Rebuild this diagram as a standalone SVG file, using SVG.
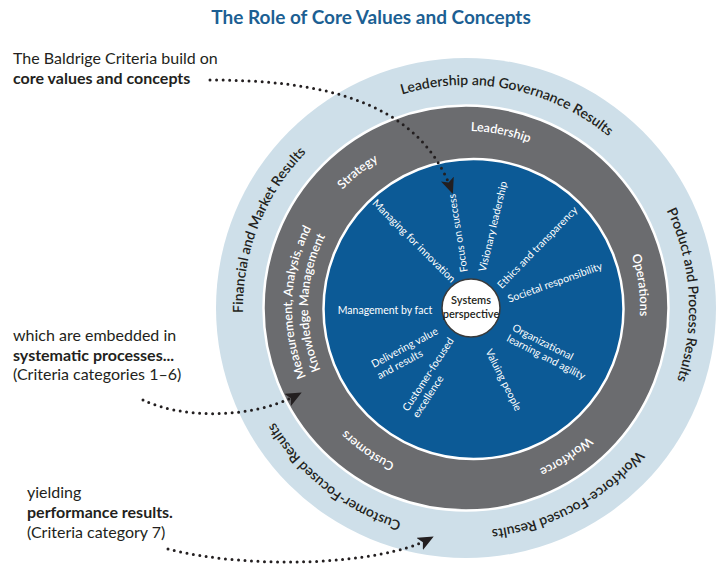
<svg xmlns="http://www.w3.org/2000/svg" xmlns:xlink="http://www.w3.org/1999/xlink" width="717" height="576" viewBox="0 0 717 576">
<defs>
<style>
.title{font-family:Lato,"Liberation Sans",sans-serif;font-weight:bold;font-size:19px;fill:#1c5f93}
.note{font-family:Lato,"Liberation Sans",sans-serif;font-size:16px;fill:#231f20}
.noteb{font-weight:bold}
.outer{font-family:Lato,"Liberation Sans",sans-serif;font-size:14px;fill:#231f20;font-weight:600}
.ring{font-family:Lato,"Liberation Sans",sans-serif;font-size:12.5px;fill:#ffffff;font-weight:600}
.inner{font-family:Lato,"Liberation Sans",sans-serif;font-size:10.5px;fill:#ffffff}
.sys{font-family:Lato,"Liberation Sans",sans-serif;font-size:11px;fill:#231f20;font-weight:600}
.dots{fill:none;stroke:#231f20;stroke-width:3;stroke-linecap:round;stroke-dasharray:0 6.5}
</style>
<marker id="arr" markerUnits="userSpaceOnUse" markerWidth="17" markerHeight="14" refX="10" refY="6.5" orient="auto" viewBox="0 0 16 13">
<path d="M0,0 L15,6.5 L0,13 L3.5,6.5 z" fill="#231f20"/>
</marker>
<path id="r223" d="M466,531 A223,223 0 1 1 466,85 A223,223 0 1 1 466,531"/>
<path id="r177" d="M466,485 A177,177 0 1 1 466,131 A177,177 0 1 1 466,485"/>
<path id="r174" d="M466,482 A174,174 0 1 1 466,134 A174,174 0 1 1 466,482"/>
<path id="r171" d="M466,479 A171,171 0 1 1 466,137 A171,171 0 1 1 466,479"/>
<path id="r158" d="M466,466 A158,158 0 1 1 466,150 A158,158 0 1 1 466,466"/>
</defs>

<text class="title" x="371" y="24" text-anchor="middle">The Role of Core Values and Concepts</text>

<g id="rings">
<circle cx="466" cy="308" r="250" fill="#cedfe9"/>
<circle cx="466" cy="308" r="202.5" fill="#6b6c6f" stroke="#ffffff" stroke-width="2.5"/>
<circle cx="473.5" cy="309" r="150" fill="#0c5a96" stroke="#ffffff" stroke-width="2.5"/>
</g>

<g id="results-labels">
<text class="outer" transform="rotate(11.5 466 308)"><textPath xlink:href="#r223" startOffset="50%" text-anchor="middle">Leadership and Governance Results</textPath></text>
<text class="outer" transform="rotate(86.5 466 308)"><textPath xlink:href="#r223" startOffset="50%" text-anchor="middle">Product and Process Results</textPath></text>
<text class="outer" transform="rotate(151.5 466 308)"><textPath xlink:href="#r223" startOffset="50%" text-anchor="middle">Workforce-Focused Results</textPath></text>
<text class="outer" transform="rotate(218 466 308)"><textPath xlink:href="#r223" startOffset="50%" text-anchor="middle">Customer-Focused Results</textPath></text>
<text class="outer" transform="rotate(291.5 466 308)"><textPath xlink:href="#r223" startOffset="50%" text-anchor="middle">Financial and Market Results</textPath></text>
</g>

<g id="process-labels">
<text class="ring" transform="rotate(11.2 466 308)"><textPath xlink:href="#r177" startOffset="50%" text-anchor="middle">Leadership</textPath></text>
<text class="ring" transform="rotate(321.5 466 308)"><textPath xlink:href="#r171" startOffset="50%" text-anchor="middle">Strategy</textPath></text>
<text class="ring" transform="rotate(82.5 466 308)"><textPath xlink:href="#r174" startOffset="50%" text-anchor="middle">Operations</textPath></text>
<text class="ring" transform="rotate(146 466 308)"><textPath xlink:href="#r177" startOffset="50%" text-anchor="middle">Workforce</textPath></text>
<text class="ring" transform="rotate(214.6 466 308)"><textPath xlink:href="#r171" startOffset="50%" text-anchor="middle">Customers</textPath></text>
<text class="ring" transform="rotate(272 466 308)"><textPath xlink:href="#r174" startOffset="50%" text-anchor="middle">Measurement, Analysis, and</textPath></text>
<text class="ring" transform="rotate(272 466 308)"><textPath xlink:href="#r158" startOffset="50%" text-anchor="middle">Knowledge Management</textPath></text>
</g>

<g id="core-values">
<text class="inner" transform="translate(414 241) rotate(45)" y="3.5" text-anchor="middle">Managing for innovation</text>
<text class="inner" transform="translate(458 233) rotate(-99)" y="3.5" text-anchor="middle">Focus on success</text>
<text class="inner" transform="translate(493 226.5) rotate(-76.5)" y="3.5" text-anchor="middle">Visionary leadership</text>
<text class="inner" transform="translate(537.5 247.5) rotate(-45.8)" y="3.5" text-anchor="middle">Ethics and transparency</text>
<text class="inner" transform="translate(555 282.5) rotate(-19.8)" y="3.5" text-anchor="middle">Societal responsibility</text>
<text class="inner" x="385" y="313.5" text-anchor="middle">Management by fact</text>
<text class="inner" transform="translate(513 327) rotate(27)"><tspan x="0" y="3.5">Organizational</tspan><tspan x="0" y="15.5">learning and agility</tspan></text>
<text class="inner" transform="translate(503.5 380) rotate(63.4)" y="3.5" text-anchor="middle">Valuing people</text>
<text class="inner" transform="translate(405 410) rotate(-57)"><tspan x="0" y="3.5">Customer-focused</tspan><tspan x="0" y="15.5">excellence</tspan></text>
<text class="inner" transform="translate(372 365) rotate(-28)"><tspan x="0" y="3.5">Delivering value</tspan><tspan x="0" y="16">and results</tspan></text>
</g>

<g id="systems">
<circle cx="471" cy="308" r="29" fill="#ffffff" stroke="#3a3a3a" stroke-width="1.5"/>
<text class="sys" x="471" y="304" text-anchor="middle">Systems</text>
<text class="sys" x="471" y="318" text-anchor="middle">perspective</text>
</g>

<g id="note1">
<text class="note" x="13" y="64">The Baldrige Criteria build on</text>
<text class="note noteb" x="13" y="84">core values and concepts</text>
</g>
<g id="note2">
<text class="note" x="13" y="341">which are embedded in</text>
<text class="note noteb" x="13" y="361">systematic processes...</text>
<text class="note" x="13" y="380">(Criteria categories 1–6)</text>
</g>
<g id="note3">
<text class="note" x="27" y="498">yielding</text>
<text class="note noteb" x="27" y="518">performance results.</text>
<text class="note" x="27" y="538">(Criteria category 7)</text>
</g>

<g id="connectors">
<path class="dots" d="M210,80 C320,80 418,100 451,189" marker-end="url(#arr)"/>
<path class="dots" d="M143,400 C180,418 250,420 297,395" marker-end="url(#arr)"/>
<path class="dots" d="M168,549 C250,570 380,565 429,539" marker-end="url(#arr)"/>
</g>
</svg>
